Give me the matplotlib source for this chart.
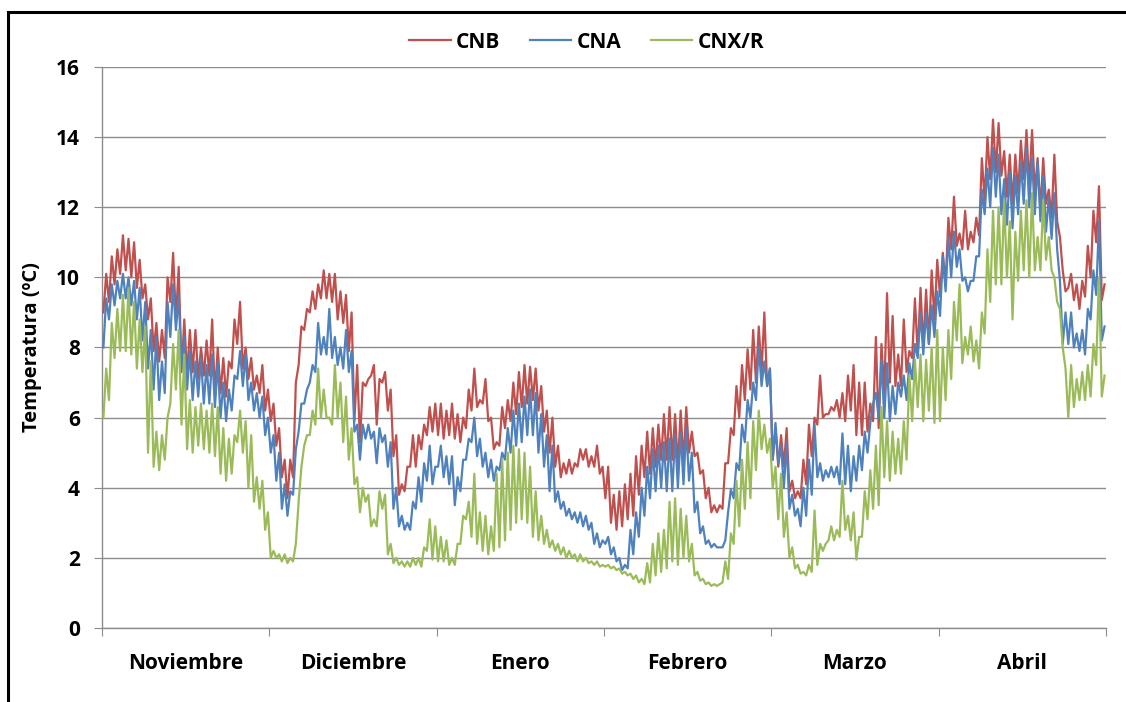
import numpy as np
import matplotlib
matplotlib.use("Agg")
import matplotlib.pyplot as plt
from matplotlib.patches import Rectangle

# Temperaturas diarias (máxima y mínima, ºC) de noviembre a abril, 30 días por mes
meses = ['Noviembre', 'Diciembre', 'Enero', 'Febrero', 'Marzo', 'Abril']
series = ['CNB', 'CNA', 'CNX/R']
colores = ['#C0504D', '#4F81BD', '#9BBB59']

cnb_max = [
    10.1, 10.6, 10.8, 11.2, 11.1, 11.0, 10.5, 9.8, 9.4, 8.7, 8.5, 10.0, 10.7, 10.3, 8.8, 8.5, 8.5, 8.0, 8.2, 8.8, 8.0, 7.7, 7.6, 8.8, 9.3, 8.0, 7.7, 7.2, 7.5, 6.8,
    6.4, 5.7, 4.8, 4.8, 7.0, 8.6, 9.1, 9.6, 9.8, 10.2, 10.1, 10.1, 9.6, 9.5, 9.0, 7.5, 7.0, 7.1, 7.5, 7.1, 7.3, 6.8, 5.5, 4.1, 4.6, 5.5, 5.5, 5.8, 6.3, 6.4,
    6.4, 6.2, 6.4, 6.1, 6.0, 6.8, 7.4, 6.5, 7.1, 6.0, 5.3, 6.3, 6.5, 7.0, 7.3, 7.5, 7.45, 7.4, 6.9, 6.2, 6.0, 5.2, 4.7, 4.8, 4.7, 5.1, 5.1, 4.9, 5.2, 4.6,
    4.6, 3.8, 3.9, 4.1, 4.4, 4.9, 5.2, 5.6, 5.7, 5.8, 6.1, 6.3, 6.1, 6.2, 6.3, 5.6, 5.0, 4.5, 4.0, 3.5, 3.5, 4.7, 5.7, 6.9, 7.5, 7.95, 8.5, 8.6, 9.0, 7.4,
    5.7, 5.5, 5.7, 4.2, 3.9, 4.8, 5.8, 6.0, 7.2, 6.1, 6.3, 6.5, 6.7, 7.2, 7.5, 7.0, 7.0, 6.4, 8.3, 8.1, 9.55, 8.9, 7.8, 8.8, 7.9, 9.4, 9.7, 9.65, 10.2, 10.5,
    10.7, 11.7, 12.3, 11.25, 11.9, 11.3, 11.7, 13.4, 14.0, 14.5, 14.4, 13.6, 13.5, 13.5, 13.9, 14.2, 14.2, 13.4, 13.4, 12.5, 13.5, 11.15, 9.6, 10.1, 9.8, 9.9, 10.9, 11.9, 12.6, 9.8,
]
cnb_min = [
    9.0, 9.3, 9.8, 10.1, 10.2, 10.0, 9.7, 9.4, 8.8, 7.9, 7.6, 7.7, 9.3, 8.8, 7.3, 7.2, 7.3, 7.1, 7.2, 7.2, 6.6, 6.7, 6.6, 7.4, 8.1, 7.4, 7.1, 6.8, 6.7, 6.2,
    5.9, 5.2, 4.3, 3.7, 4.3, 7.5, 8.5, 9.0, 9.1, 9.4, 9.4, 9.3, 8.8, 8.7, 7.9, 5.9, 5.3, 6.9, 7.2, 5.8, 7.0, 6.2, 4.9, 3.8, 3.9, 4.6, 4.6, 5.1, 5.5, 5.6,
    5.5, 5.4, 5.5, 5.4, 5.3, 5.7, 6.2, 6.3, 6.4, 5.9, 5.1, 5.2, 5.7, 5.9, 6.1, 6.3, 6.4, 6.5, 6.2, 5.6, 5.0, 4.6, 4.3, 4.4, 4.4, 4.6, 4.8, 4.6, 4.6, 4.4,
    3.7, 3.0, 2.8, 2.9, 3.1, 3.2, 3.8, 4.3, 4.4, 4.6, 4.8, 4.8, 4.8, 4.6, 4.7, 5.0, 4.9, 4.4, 3.7, 3.3, 3.3, 3.4, 4.7, 5.5, 6.0, 6.5, 6.8, 7.0, 7.3, 6.9,
    4.8, 4.6, 4.6, 3.9, 3.7, 3.7, 4.1, 4.9, 5.8, 6.0, 6.1, 6.2, 6.0, 5.9, 6.2, 5.5, 5.5, 5.6, 5.9, 5.7, 6.7, 7.0, 6.9, 6.9, 7.3, 7.7, 7.8, 8.0, 8.1, 8.8,
    9.45, 9.8, 10.8, 10.9, 10.8, 10.8, 11.0, 11.2, 12.2, 12.8, 13.0, 12.9, 12.3, 12.1, 12.4, 12.8, 12.6, 12.4, 11.9, 12.1, 11.7, 11.6, 10.2, 9.7, 9.35, 9.1, 9.45, 10.0, 11.0, 9.35,
]

cna_max = [
    9.4, 9.8, 9.9, 10.1, 10.0, 9.9, 9.7, 9.3, 8.5, 8.3, 7.6, 9.3, 9.8, 9.5, 8.3, 7.9, 7.6, 7.7, 7.5, 7.8, 7.6, 7.0, 6.8, 7.2, 7.9, 7.8, 7.0, 6.7, 6.6, 6.0,
    5.5, 5.0, 4.1, 3.9, 5.1, 6.4, 6.8, 7.5, 8.7, 8.3, 9.1, 8.3, 8.0, 8.5, 7.9, 5.8, 5.8, 5.8, 5.6, 5.7, 5.5, 5.3, 4.0, 3.2, 3.0, 3.6, 4.3, 4.7, 5.2, 4.6,
    5.2, 4.9, 4.9, 4.3, 4.8, 5.4, 6.0, 5.4, 5.0, 4.8, 4.6, 5.0, 5.7, 6.2, 6.4, 6.6, 6.8, 6.7, 6.1, 5.5, 5.2, 3.9, 3.6, 3.4, 3.3, 3.3, 3.2, 3.0, 2.7, 2.5,
    2.6, 2.3, 2.0, 1.8, 2.8, 3.3, 4.0, 4.6, 5.1, 5.2, 5.3, 5.4, 5.5, 5.6, 5.7, 5.0, 3.6, 2.9, 2.5, 2.4, 2.3, 2.5, 3.95, 4.7, 5.8, 6.5, 7.0, 8.05, 7.6, 7.4,
    5.85, 5.2, 5.3, 3.8, 3.4, 4.0, 4.8, 5.8, 4.7, 4.5, 4.6, 4.6, 5.55, 5.2, 4.9, 5.2, 5.6, 5.85, 6.7, 7.65, 7.55, 6.9, 7.0, 7.2, 7.55, 8.1, 9.0, 9.0, 9.2, 9.6,
    10.6, 11.15, 11.3, 10.8, 10.0, 9.9, 10.6, 12.5, 13.1, 13.7, 13.5, 12.8, 13.0, 12.9, 13.3, 13.7, 13.4, 13.3, 12.9, 12.3, 12.4, 9.9, 9.0, 9.0, 8.4, 8.5, 9.1, 10.2, 11.6, 8.6,
]
cna_min = [
    8.0, 8.8, 9.2, 9.4, 9.4, 9.2, 8.8, 8.2, 7.4, 6.8, 6.5, 6.7, 8.3, 8.5, 7.4, 6.8, 6.5, 6.6, 6.4, 6.4, 6.3, 6.0, 5.9, 6.2, 7.1, 6.9, 6.5, 6.2, 6.0, 5.5,
    5.0, 4.2, 3.4, 3.2, 3.8, 5.6, 6.4, 7.0, 7.3, 7.8, 7.8, 7.7, 7.5, 7.4, 7.3, 5.6, 4.8, 5.4, 5.4, 4.7, 5.3, 4.6, 3.4, 2.9, 2.8, 2.8, 3.4, 3.6, 4.2, 4.1,
    4.6, 4.3, 4.1, 3.5, 3.9, 4.8, 5.3, 4.9, 4.6, 4.3, 4.2, 4.5, 4.8, 5.0, 5.2, 5.3, 5.5, 5.5, 5.0, 4.6, 3.9, 3.6, 3.4, 3.2, 3.1, 3.0, 2.9, 2.8, 2.4, 2.3,
    2.4, 2.1, 1.9, 1.65, 1.7, 2.1, 2.6, 3.2, 3.7, 3.9, 4.0, 3.9, 3.9, 4.0, 4.1, 4.2, 3.3, 2.7, 2.4, 2.3, 2.3, 2.3, 3.3, 3.7, 4.5, 5.3, 6.0, 6.5, 6.9, 6.9,
    4.8, 4.7, 4.0, 3.4, 3.2, 2.9, 3.2, 3.8, 4.3, 4.2, 4.3, 4.3, 4.1, 4.1, 3.9, 4.2, 4.5, 5.0, 6.4, 6.0, 6.0, 5.9, 6.1, 6.6, 6.5, 7.1, 7.7, 7.8, 8.1, 8.3,
    8.9, 9.6, 10.0, 10.3, 9.9, 9.6, 9.9, 10.6, 11.8, 12.0, 12.3, 11.8, 11.5, 11.4, 11.8, 12.1, 12.0, 11.8, 11.6, 11.3, 11.1, 10.8, 8.1, 8.1, 8.0, 7.9, 7.8, 8.8, 9.5, 8.2,
]

cnxr_max = [
    7.4, 8.7, 9.1, 9.5, 9.7, 9.3, 8.8, 8.6, 7.6, 5.6, 5.5, 6.0, 8.1, 8.5, 7.8, 6.5, 6.3, 6.4, 6.2, 6.4, 6.3, 5.7, 5.4, 5.5, 6.2, 5.9, 5.5, 4.3, 4.2, 3.3,
    2.2, 2.1, 2.1, 2.0, 2.4, 4.6, 5.5, 6.2, 7.4, 6.8, 6.0, 7.5, 7.0, 6.6, 5.7, 4.3, 4.0, 3.8, 3.1, 3.9, 3.8, 2.4, 2.0, 1.9, 1.9, 2.0, 2.0, 2.3, 3.1, 2.9,
    2.6, 2.5, 2.0, 2.4, 3.2, 3.6, 4.4, 3.3, 3.2, 2.9, 4.4, 4.8, 5.0, 5.2, 5.1, 5.0, 4.6, 3.9, 3.2, 2.8, 2.5, 2.4, 2.3, 2.2, 2.1, 2.1, 2.0, 1.9, 1.9, 1.8,
    1.8, 1.75, 1.7, 1.6, 1.55, 1.5, 1.4, 1.85, 2.4, 2.7, 2.8, 3.6, 3.7, 3.4, 3.2, 2.4, 1.6, 1.4, 1.3, 1.25, 1.25, 1.9, 2.7, 4.2, 4.8, 5.3, 5.9, 6.2, 5.8, 5.4,
    4.6, 4.4, 3.3, 2.3, 1.8, 1.6, 1.8, 3.35, 2.4, 2.4, 2.9, 2.8, 4.2, 3.2, 3.3, 2.6, 3.9, 4.5, 5.2, 6.3, 5.9, 5.6, 5.4, 5.9, 7.2, 7.65, 7.8, 7.65, 8.0, 8.5,
    8.0, 8.5, 9.3, 9.8, 8.3, 8.6, 8.2, 9.0, 10.8, 11.9, 12.0, 12.2, 11.6, 11.3, 11.9, 12.2, 12.4, 11.15, 12.2, 11.15, 10.0, 9.1, 7.4, 7.5, 7.1, 7.3, 7.5, 8.1, 10.0, 7.2,
]
cnxr_min = [
    6.0, 6.5, 7.7, 7.9, 7.9, 7.8, 7.4, 7.3, 5.0, 4.6, 4.5, 4.8, 6.4, 6.8, 5.8, 5.1, 5.0, 5.2, 5.1, 5.0, 4.9, 4.4, 4.2, 4.4, 5.3, 5.0, 4.0, 3.6, 3.4, 2.8,
    2.0, 2.0, 1.9, 1.85, 1.9, 3.6, 5.2, 5.5, 5.8, 6.0, 6.0, 5.8, 6.0, 5.3, 4.8, 4.1, 3.3, 3.6, 2.9, 2.9, 3.4, 2.1, 1.85, 1.8, 1.75, 1.75, 1.8, 1.75, 2.2, 1.95,
    1.9, 1.9, 1.8, 1.8, 2.4, 3.1, 2.6, 2.4, 2.2, 2.1, 2.2, 2.3, 2.5, 2.8, 3.0, 3.1, 3.0, 2.6, 2.5, 2.4, 2.3, 2.2, 2.1, 2.0, 2.0, 1.9, 1.9, 1.85, 1.8, 1.75,
    1.75, 1.7, 1.65, 1.55, 1.5, 1.4, 1.3, 1.25, 1.3, 1.5, 1.6, 1.7, 1.9, 1.8, 2.0, 1.9, 1.5, 1.35, 1.25, 1.2, 1.2, 1.3, 1.4, 2.4, 2.9, 3.4, 3.7, 4.5, 5.1, 5.0,
    4.0, 3.1, 2.6, 2.0, 1.7, 1.55, 1.5, 1.6, 1.8, 2.2, 2.5, 2.5, 2.6, 2.8, 2.5, 1.95, 2.6, 3.1, 3.4, 3.5, 4.3, 4.2, 4.4, 4.4, 4.8, 5.9, 6.3, 5.9, 6.2, 5.85,
    5.9, 6.5, 7.1, 8.2, 7.55, 7.8, 7.6, 7.4, 8.4, 9.3, 9.8, 9.8, 10.0, 8.8, 9.9, 10.2, 10.0, 10.2, 10.2, 10.5, 10.2, 9.3, 8.0, 6.0, 6.3, 6.5, 6.5, 6.6, 7.5, 6.6,
]

dias_por_mes = 30
n_dias = len(meses) * dias_por_mes


def serie_horaria(minimos, maximos):
    # mínimo por la mañana, máximo por la tarde de cada día
    x = np.repeat(np.arange(n_dias), 2) + np.tile([0.25, 0.75], n_dias)
    y = np.column_stack([minimos, maximos]).ravel()
    return x, y


fig = plt.figure(figsize=(11.26, 7.02), dpi=100)
ax = fig.add_axes([0.0906, 0.1054, 0.8916, 0.7992])

datos = [(cnb_min, cnb_max), (cna_min, cna_max), (cnxr_min, cnxr_max)]
for nombre, color, (mn, mx) in zip(series, colores, datos):
    x, y = serie_horaria(mn, mx)
    ax.plot(x, y, color=color, lw=1.6, label=nombre, zorder=3)

fuente = 'Open Sans'
ax.set_xlim(0, n_dias)
ax.set_ylim(0, 16)
ax.set_yticks(np.arange(0, 17, 2))
ax.grid(axis='y', color='#8C8C8C', lw=1)
ax.set_axisbelow(True)

# marcas en los límites de cada mes, nombres centrados entre ellas
ax.set_xticks(np.arange(0, n_dias + 1, dias_por_mes))
ax.set_xticklabels([])
ax.set_xticks(np.arange(dias_por_mes / 2, n_dias, dias_por_mes), minor=True)
ax.set_xticklabels(meses, minor=True, fontsize=15, fontweight='bold', family=fuente)
ax.tick_params(axis='x', which='major', length=6, color='#8C8C8C')
ax.tick_params(axis='x', which='minor', length=0, pad=18)
ax.tick_params(axis='y', length=6, color='#8C8C8C', pad=10)
for lbl in ax.get_yticklabels():
    lbl.set_fontsize(15)
    lbl.set_fontweight('bold')
    lbl.set_family(fuente)

for lado in ['top', 'right']:
    ax.spines[lado].set_visible(False)
for lado in ['left', 'bottom']:
    ax.spines[lado].set_color('#8C8C8C')
    ax.spines[lado].set_linewidth(1)

ax.set_ylabel('Temperatura (ºC)', fontsize=14.5, fontweight='bold', family=fuente, labelpad=10)

fig.legend(loc='center', bbox_to_anchor=(0.521, 0.94), ncol=3, frameon=False,
           handlelength=2.0, columnspacing=1.4, handletextpad=0.25,
           prop={'family': fuente, 'weight': 'bold', 'size': 15})

# marco exterior del gráfico
fig.add_artist(Rectangle((0.0071, -0.2), 1.2, 1.183, transform=fig.transFigure,
                         fill=False, edgecolor='black', lw=2.2))

fig.savefig('out.png', dpi=100)
